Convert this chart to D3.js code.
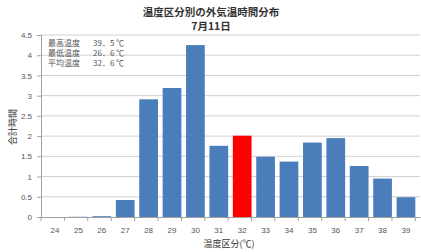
<!DOCTYPE html>
<html>
<head>
<meta charset="utf-8">
<script src="https://cdn.jsdelivr.net/npm/d3@7"></script>
<style>
  body { margin: 0; background: #fff; }
  text { font-family: "Noto Sans CJK JP", "Noto Sans", sans-serif; }
</style>
</head>
<body>
<div id="chart"></div>
<script>
// data
var categories = ["24", "25", "26", "27", "28", "29", "30", "31", "32", "33", "34", "35", "36", "37", "38", "39"];
var hours = [0, 0.005, 0.02, 0.42, 2.91, 3.19, 4.25, 1.76, 2.01, 1.49, 1.37, 1.84, 1.95, 1.26, 0.95, 0.49];
var highlight = "32";
var yTicks = [0, 0.5, 1, 1.5, 2, 2.5, 3, 3.5, 4, 4.5];
var noteLabels = ["最高温度", "最低温度", "平均温度"];
var noteValues = ["39．5 ℃", "26．6 ℃", "32．6 ℃"];

var svgWidth = 421;
var svgHeight = 252;
var margin = { top: 35, right: 1, bottom: 35, left: 41 };
var width = svgWidth - margin.left - margin.right;
var height = svgHeight - margin.top - margin.bottom;

var svg = d3.select("#chart").append("svg")
  .attr("width", svgWidth)
  .attr("height", svgHeight);

var chartGroup = svg.append("g")
  .attr("transform", `translate(${margin.left}, ${margin.top})`);

var x = d3.scaleBand().domain(categories).range([0, width]).padding(0.2);
var y = d3.scaleLinear().domain([0, 4.5]).range([height, 0]);

// gridlines
chartGroup.selectAll(".grid").data(yTicks.slice(1))
  .enter().append("line")
  .attr("x1", 0).attr("x2", width)
  .attr("y1", d => y(d)).attr("y2", d => y(d))
  .attr("stroke", "#d0d0d0").attr("stroke-width", 1);

// bars
chartGroup.selectAll(".bar").data(hours)
  .enter().append("rect")
  .attr("x", (d, i) => x(categories[i]))
  .attr("y", d => y(d))
  .attr("width", x.bandwidth())
  .attr("height", d => height - y(d))
  .attr("fill", (d, i) => categories[i] === highlight ? "#ff0000" : "#4a7ebb");

// y axis
var yAxis = chartGroup.append("g")
  .call(d3.axisLeft(y).tickValues(yTicks).tickFormat(d3.format("")).tickSize(4).tickPadding(5));
yAxis.select(".domain").attr("stroke", "#a0a0a0");
yAxis.selectAll(".tick line").attr("stroke", "#a0a0a0");
yAxis.selectAll("text").attr("fill", "#555").style("font-size", "8px").style("font-family", "Liberation Sans, sans-serif");

// x axis
var xAxis = chartGroup.append("g")
  .attr("transform", `translate(0, ${height})`)
  .call(d3.axisBottom(x).tickSize(0).tickPadding(10));
xAxis.select(".domain").attr("stroke", "#a0a0a0");
xAxis.selectAll("text").attr("fill", "#555").style("font-size", "8px").style("font-family", "Liberation Sans, sans-serif");
// ticks between categories
var step = x.step();
xAxis.selectAll(".sep").data(d3.range(categories.length + 1))
  .enter().append("line")
  .attr("x1", d => d * step).attr("x2", d => d * step)
  .attr("y1", 0).attr("y2", 4)
  .attr("stroke", "#a0a0a0");

// title
svg.append("text")
  .attr("x", 211).attr("y", 16)
  .attr("text-anchor", "middle")
  .style("font-size", "10.5px").style("font-weight", "bold")
  .attr("fill", "#333")
  .text("温度区分別の外気温時間分布");
svg.append("text")
  .attr("x", 211).attr("y", 30)
  .attr("text-anchor", "middle")
  .style("font-size", "10.5px").style("font-weight", "bold")
  .attr("fill", "#333")
  .text("7月11日");

// notes
noteLabels.forEach(function(lbl, i) {
  chartGroup.append("text")
    .attr("x", 7).attr("y", 11 + i * 10)
    .style("font-size", "8px").attr("fill", "#555")
    .text(lbl);
  chartGroup.append("text")
    .attr("x", 52).attr("y", 11 + i * 10)
    .style("font-size", "8px").attr("fill", "#555")
    .text(noteValues[i]);
});

// axis titles
svg.append("text")
  .attr("transform", "rotate(-90)")
  .attr("x", -127).attr("y", 16)
  .attr("text-anchor", "middle")
  .style("font-size", "9px").attr("fill", "#333")
  .text("合計時間");

svg.append("text")
  .attr("x", 229).attr("y", 247)
  .attr("text-anchor", "middle")
  .style("font-size", "9px").attr("fill", "#333")
  .text("温度区分(℃)");
</script>
</body>
</html>
